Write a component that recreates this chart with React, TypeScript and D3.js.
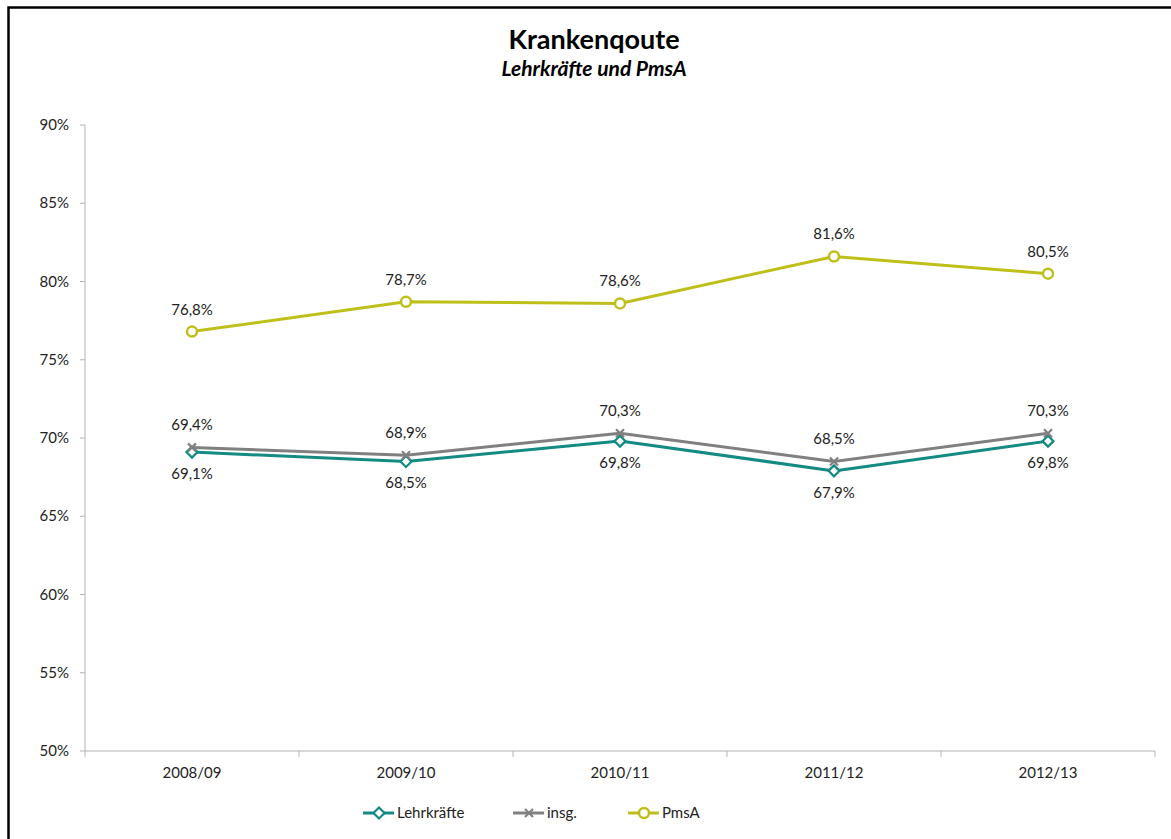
import React from "react";
import * as d3 from "d3";

const categories = ["2008/09", "2009/10", "2010/11", "2011/12", "2012/13"];
const lehrkraefte = [69.1, 68.5, 69.8, 67.9, 69.8];
const insg = [69.4, 68.9, 70.3, 68.5, 70.3];
const pmsa = [76.8, 78.7, 78.6, 81.6, 80.5];
const yTicks = [50, 55, 60, 65, 70, 75, 80, 85, 90];

const W = 1171;
const H = 839;
const FONT = "Lato, 'Open Sans', sans-serif";

const series = [
  { name: "Lehrkräfte", values: lehrkraefte, color: "#138a82", marker: "diamond", labelPos: "below" },
  { name: "insg.", values: insg, color: "#808080", marker: "x", labelPos: "above" },
  { name: "PmsA", values: pmsa, color: "#bfbf1a", marker: "circle", labelPos: "above" },
];

const fmt = (v: number) => v.toFixed(1).replace(".", ",") + "%";

function Marker({ type, x, y, color }: { type: string; x: number; y: number; color: string }) {
  if (type === "diamond") {
    const s = 5.5;
    return (
      <path
        d={`M${x},${y - s}L${x + s},${y}L${x},${y + s}L${x - s},${y}Z`}
        fill="#fff"
        stroke={color}
        strokeWidth={2.2}
      />
    );
  }
  if (type === "circle") {
    return <circle cx={x} cy={y} r={5} fill="#fff" stroke={color} strokeWidth={2.5} />;
  }
  const s = 4;
  return (
    <path
      d={`M${x - s},${y - s}L${x + s},${y + s}M${x - s},${y + s}L${x + s},${y - s}`}
      stroke={color}
      strokeWidth={2.2}
      fill="none"
    />
  );
}

export default function App() {
  const x0 = 85;
  const x1 = 1155;
  const yTop = 125;
  const yBot = 751;
  const x = d3.scaleBand<string>().domain(categories).range([x0, x1]);
  const y = d3.scaleLinear().domain([50, 90]).range([yBot, yTop]);
  const cx = (c: string) => (x(c) as number) + x.bandwidth() / 2;
  const line = d3
    .line<number>()
    .x((_, i) => cx(categories[i]))
    .y((d) => y(d));

  const boundaries = categories.map((c) => x(c) as number).concat([x1]);

  const legendItems = [
    { s: series[0], lx: 363 },
    { s: series[1], lx: 513 },
    { s: series[2], lx: 628 },
  ];

  return (
    <svg
      width={W}
      height={H}
      style={{ position: "absolute", left: 0, top: 0, background: "#fff", display: "block" }}
      fontFamily={FONT}
    >
      <rect x={0} y={0} width={W} height={H} fill="#fff" />
      <path d={`M8.5,${H}L8.5,7.5L${W},7.5`} fill="none" stroke="#000" strokeWidth={2.5} />

      <text x={594} y={49} textAnchor="middle" fontSize={27} fontWeight={700} fill="#000">
        Krankenqoute
      </text>
      <text x={594} y={76} textAnchor="middle" fontSize={21} fontWeight={700} fontStyle="italic" fill="#000">
        Lehrkräfte und PmsA
      </text>

      {/* y axis */}
      <line x1={x0} x2={x0} y1={yTop} y2={yBot} stroke="#b3b3b3" strokeWidth={1} />
      {yTicks.map((t) => (
        <g key={t}>
          <line x1={x0 - 5} x2={x0} y1={y(t)} y2={y(t)} stroke="#b3b3b3" strokeWidth={1} />
          <text x={69} y={y(t) + 5} textAnchor="end" fontSize={15} fill="#222">
            {t}%
          </text>
        </g>
      ))}

      {/* x axis */}
      <line x1={x0} x2={x1} y1={yBot} y2={yBot} stroke="#b3b3b3" strokeWidth={1} />
      {boundaries.map((b, i) => (
        <line key={i} x1={b} x2={b} y1={yBot} y2={yBot + 6} stroke="#b3b3b3" strokeWidth={1} />
      ))}
      {categories.map((c) => (
        <text key={c} x={cx(c)} y={yBot + 27} textAnchor="middle" fontSize={15} fill="#222">
          {c}
        </text>
      ))}

      {/* series */}
      {series.map((s) => (
        <g key={s.name}>
          <path d={line(s.values) || ""} fill="none" stroke={s.color} strokeWidth={3} />
          {s.values.map((v, i) => (
            <Marker key={i} type={s.marker} x={cx(categories[i])} y={y(v)} color={s.color} />
          ))}
          {s.values.map((v, i) => (
            <text
              key={"l" + i}
              x={cx(categories[i])}
              y={s.labelPos === "above" ? y(v) - 17 : y(v) + 27}
              textAnchor="middle"
              fontSize={15}
              fill="#222"
            >
              {fmt(v)}
            </text>
          ))}
        </g>
      ))}

      {/* legend */}
      {legendItems.map(({ s, lx }) => (
        <g key={s.name}>
          <line x1={lx} x2={lx + 31} y1={813} y2={813} stroke={s.color} strokeWidth={3} />
          <Marker type={s.marker} x={lx + 16} y={813} color={s.color} />
          <text x={lx + 34} y={818} fontSize={15} fill="#222">
            {s.name}
          </text>
        </g>
      ))}
    </svg>
  );
}
